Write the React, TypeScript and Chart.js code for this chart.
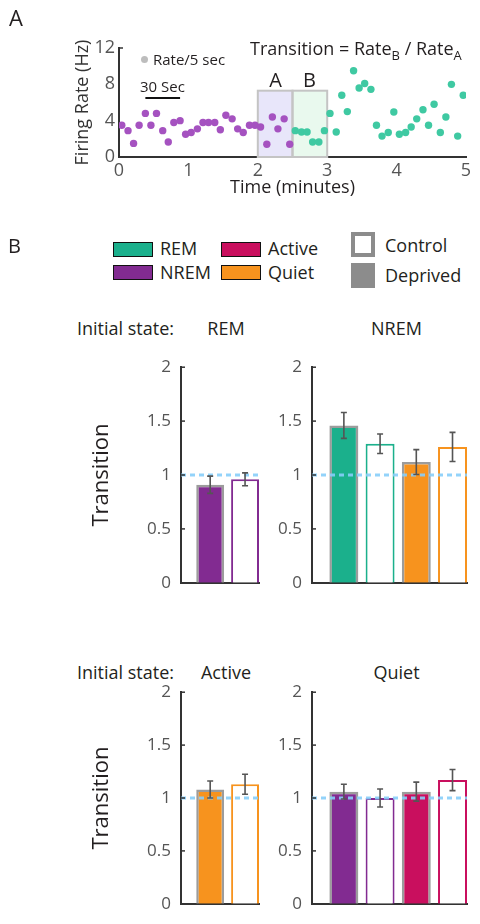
import React, { useEffect, useRef } from "react";
import { Chart, registerables } from "chart.js";

Chart.register(...registerables);

const FONT = "'Open Sans', 'Noto Sans', sans-serif";
Chart.defaults.font.family = FONT;

// ---------------- Panel A: firing rate per 5-s bin ----------------
const nremTimes = [0.04, 0.13, 0.21, 0.29, 0.38, 0.46, 0.54, 0.63, 0.71, 0.79, 0.88, 0.96, 1.04, 1.13, 1.21, 1.29, 1.38, 1.46, 1.54, 1.63, 1.71, 1.79, 1.88, 1.96, 2.04, 2.13, 2.21, 2.29, 2.38, 2.46];
const nremRates = [3.5, 2.9, 1.5, 3.5, 4.8, 3.5, 4.8, 2.9, 1.65, 3.8, 4.0, 2.5, 2.7, 3.1, 3.8, 3.8, 3.8, 3.0, 4.6, 4.2, 3.1, 2.7, 3.5, 3.5, 3.3, 1.4, 4.4, 3.1, 4.2, 1.4];
const remTimes = [2.54, 2.63, 2.71, 2.79, 2.88, 2.96, 3.04, 3.13, 3.21, 3.29, 3.38, 3.46, 3.54, 3.63, 3.71, 3.79, 3.88, 3.96, 4.04, 4.13, 4.21, 4.29, 4.38, 4.46, 4.54, 4.63, 4.71, 4.79, 4.88, 4.96];
const remRates = [2.9, 2.75, 2.75, 1.65, 1.65, 2.9, 4.8, 2.75, 6.8, 5.0, 9.5, 7.6, 8.1, 7.45, 3.5, 2.3, 2.7, 4.95, 2.5, 2.7, 3.3, 4.2, 5.2, 3.5, 5.8, 2.7, 4.4, 8.0, 2.3, 6.8];
const windowA = [2.0, 2.5];
const windowB = [2.5, 3.0];
const windowTop = 7.3;
const scaleBarStart = 0.38;
const scaleBarLength = 0.5; // 30 s
const scaleBarLevel = 6.5;

// ---------------- Panel B: transition ratios ----------------
const stateColors: Record<string, string> = {
  REM: "#1bb08c",
  NREM: "#822b91",
  Active: "#c90f5e",
  Quiet: "#f7931e",
};
const legendStates = ["REM", "NREM", "Active", "Quiet"];

const remNext = ["NREM", "NREM"];
const remCond = ["Deprived", "Control"];
const remValues = [0.91, 0.96];
const remErrors = [0.08, 0.06];

const nremNext = ["REM", "REM", "Quiet", "Quiet"];
const nremCond = ["Deprived", "Control", "Deprived", "Control"];
const nremValues = [1.46, 1.29, 1.12, 1.26];
const nremErrors = [0.12, 0.09, 0.115, 0.135];

const activeNext = ["Quiet", "Quiet"];
const activeCond = ["Deprived", "Control"];
const activeValues = [1.08, 1.13];
const activeErrors = [0.08, 0.095];

const quietNext = ["NREM", "NREM", "Active", "Active"];
const quietCond = ["Deprived", "Control", "Deprived", "Control"];
const quietValues = [1.06, 1.0, 1.06, 1.17];
const quietErrors = [0.07, 0.085, 0.09, 0.1];

const pos2 = [1, 2];
const pos4 = [1, 2, 3, 4];
const yTickValues = [0, 0.5, 1, 1.5, 2];
const baseline = 1;

type Box = { l: number; t: number; w: number; h: number };

function Txt(props: { x: number; base: number; size: number; align?: "left" | "center"; color?: string; children: any }) {
  const { x, base, size, align = "left", color = "#231f20", children } = props;
  return (
    <div
      style={{
        position: "absolute",
        left: x,
        top: base - 0.888 * size,
        fontSize: size,
        lineHeight: `${size}px`,
        fontFamily: FONT,
        color,
        whiteSpace: "nowrap",
        transform: align === "center" ? "translateX(-50%)" : undefined,
      }}
    >
      {children}
    </div>
  );
}

function RatePanel() {
  const ref = useRef<HTMLCanvasElement>(null);
  useEffect(() => {
    const canvas = ref.current!;
    const decor = {
      id: "decor",
      beforeDatasetsDraw(chart: any) {
        const { ctx, scales } = chart;
        const x = scales.x, y = scales.y;
        const yT = y.getPixelForValue(windowTop);
        const yB = y.getPixelForValue(0);
        const wins: [number[], string][] = [
          [windowA, "#e8e6fa"],
          [windowB, "#e9f9ee"],
        ];
        ctx.save();
        wins.forEach(([w, c]) => {
          const x0 = x.getPixelForValue(w[0]);
          const x1 = x.getPixelForValue(w[1]);
          ctx.fillStyle = c;
          ctx.fillRect(x0, yT, x1 - x0, yB - yT);
        });
        wins.forEach(([w]) => {
          const x0 = x.getPixelForValue(w[0]);
          const x1 = x.getPixelForValue(w[1]);
          ctx.strokeStyle = "#c4c4c4";
          ctx.lineWidth = 2;
          ctx.strokeRect(x0, yT, x1 - x0, yB - yT);
        });
        ctx.restore();
      },
      afterDatasetsDraw(chart: any) {
        const { ctx, scales } = chart;
        const x = scales.x, y = scales.y;
        ctx.save();
        ctx.strokeStyle = "#111";
        ctx.lineWidth = 2;
        const py = y.getPixelForValue(scaleBarLevel);
        ctx.beginPath();
        ctx.moveTo(x.getPixelForValue(scaleBarStart), py);
        ctx.lineTo(x.getPixelForValue(scaleBarStart + scaleBarLength), py);
        ctx.stroke();
        const top = y.getPixelForValue(12);
        ctx.strokeStyle = "#333";
        ctx.lineWidth = 1.5;
        ctx.beginPath();
        ctx.moveTo(chart.chartArea.left, top);
        ctx.lineTo(chart.chartArea.left + 4, top);
        ctx.stroke();
        ctx.restore();
      },
    };
    const chart = new Chart(canvas, {
      type: "scatter",
      data: {
        datasets: [
          {
            label: "NREM",
            data: nremTimes.map((t, i) => ({ x: t, y: nremRates[i] })),
            backgroundColor: "#a552c0",
            borderWidth: 0,
            pointRadius: 3.7,
          },
          {
            label: "REM",
            data: remTimes.map((t, i) => ({ x: t, y: remRates[i] })),
            backgroundColor: "#3fc9a2",
            borderWidth: 0,
            pointRadius: 3.7,
          },
        ],
      },
      options: {
        animation: false,
        responsive: false,
        layout: { padding: { top: 48, right: 14, left: 0, bottom: 0 } },
        plugins: { legend: { display: false }, tooltip: { enabled: false } },
        scales: {
          x: {
            type: "linear",
            min: 0,
            max: 5,
            grid: { display: false, drawTicks: false },
            border: { color: "#333", width: 2 },
            ticks: { stepSize: 1, color: "#555", font: { size: 18 }, padding: 3.5 },
            title: { display: true, text: "Time (minutes)", color: "#231f20", font: { size: 18 }, padding: { top: 0, bottom: 11 } },
            afterFit: (s: any) => { s.height = 53; },
          },
          y: {
            min: 0,
            max: 12,
            grid: { display: false, drawTicks: false },
            border: { color: "#333", width: 2 },
            ticks: { stepSize: 4, color: "#555", font: { size: 18 }, padding: 4 },
            title: { display: true, text: "Firing Rate (Hz)", color: "#333", font: { size: 18 }, padding: { top: 72, bottom: 0 } },
            afterFit: (s: any) => { s.width = 119; },
          },
        },
      },
      plugins: [decor],
    });
    return () => chart.destroy();
  }, []);
  return <canvas ref={ref} width={480} height={210} style={{ position: "absolute", left: 0, top: 0, width: 480, height: 210 }} />;
}

function BarPanel(props: {
  box: Box; yw: number; padRight: number;
  xRange: number[]; positions: number[]; next: string[]; cond: string[];
  values: number[]; errors: number[]; yTitle: boolean;
}) {
  const { box, yw, padRight, xRange, positions, next, cond, values, errors, yTitle } = props;
  const ref = useRef<HTMLCanvasElement>(null);
  useEffect(() => {
    const canvas = ref.current!;
    const fills = next.map((s, i) => (cond[i] === "Deprived" ? stateColors[s] : "#ffffff"));
    const borders = next.map((s, i) => (cond[i] === "Deprived" ? "#9c9c9c" : stateColors[s]));
    const widths = cond.map((c) => (c === "Deprived" ? 2.5 : 2));
    const extras = {
      id: "extras",
      afterDatasetsDraw(chart: any) {
        const { ctx, scales, chartArea } = chart;
        const x = scales.x, y = scales.y;
        ctx.save();
        ctx.strokeStyle = "#555";
        ctx.lineWidth = 1.6;
        positions.forEach((p, i) => {
          const px = x.getPixelForValue(p);
          const y1 = y.getPixelForValue(values[i] + errors[i]);
          const y0 = y.getPixelForValue(values[i] - errors[i]);
          ctx.beginPath();
          ctx.moveTo(px, y0); ctx.lineTo(px, y1);
          ctx.moveTo(px - 3, y0); ctx.lineTo(px + 3, y0);
          ctx.moveTo(px - 3, y1); ctx.lineTo(px + 3, y1);
          ctx.stroke();
        });
        ctx.strokeStyle = "#333";
        ctx.lineWidth = 1.5;
        yTickValues.forEach((v) => {
          const py = y.getPixelForValue(v);
          ctx.beginPath();
          ctx.moveTo(chartArea.left, py);
          ctx.lineTo(chartArea.left + 4, py);
          ctx.stroke();
        });
        ctx.restore();
      },
    };
    const chart = new Chart(canvas, {
      type: "bar",
      data: {
        datasets: [
          {
            type: "line",
            data: [{ x: xRange[0], y: baseline }, { x: xRange[1], y: baseline }],
            borderColor: "rgba(135,206,250,0.9)",
            borderDash: [5, 4],
            borderWidth: 3,
            pointRadius: 0,
            order: 0,
          } as any,
          {
            type: "bar",
            data: positions.map((p, i) => ({ x: p, y: values[i] })),
            backgroundColor: fills,
            borderColor: borders,
            borderWidth: widths,
            categoryPercentage: 1,
            barPercentage: 0.8,
            order: 1,
          } as any,
        ],
      },
      options: {
        animation: false,
        responsive: false,
        layout: { padding: { top: 0, right: padRight, left: 0, bottom: 0 } },
        plugins: { legend: { display: false }, tooltip: { enabled: false } },
        scales: {
          x: {
            type: "linear",
            offset: false,
            min: xRange[0],
            max: xRange[1],
            grid: { display: false, drawTicks: false },
            border: { color: "#333", width: 2 },
            ticks: { display: false },
            afterFit: (s: any) => { s.height = 4; },
          },
          y: {
            min: 0,
            max: 2,
            grid: { display: false, drawTicks: false },
            border: { color: "#333", width: 2 },
            ticks: { stepSize: 0.5, color: "#555", font: { size: 17 }, padding: 10, callback: (v: any) => `${v}` },
            title: { display: yTitle, text: "Transition", color: "#231f20", font: { size: 22 }, padding: { top: 28.3, bottom: 0 } },
            afterFit: (s: any) => { s.width = yw; },
          },
        },
      },
      plugins: [extras],
    });
    return () => chart.destroy();
  }, []);
  return <canvas ref={ref} width={box.w} height={box.h} style={{ position: "absolute", left: box.l, top: box.t, width: box.w, height: box.h }} />;
}

function Swatch(props: { x: number; y: number; color: string }) {
  return (
    <div style={{ position: "absolute", left: props.x, top: props.y, width: 40, height: 15, boxSizing: "border-box", border: "1.5px solid #111", background: props.color }} />
  );
}

export default function App() {
  const swatchPos: Record<string, [number, number]> = {
    REM: [113, 241.5],
    NREM: [113, 265],
    Active: [221, 241.5],
    Quiet: [221, 265],
  };
  const labelBase: Record<string, number> = { REM: 255, NREM: 278.5, Active: 255, Quiet: 278.5 };
  return (
    <div style={{ position: "absolute", left: 0, top: 0, width: 480, height: 924, background: "#fff", overflow: "hidden" }}>
      <RatePanel />
      <Txt x={9} base={26} size={22}>A</Txt>
      <div style={{ position: "absolute", left: 140.5, top: 55.5, width: 7, height: 7, borderRadius: "50%", background: "#bdbdbd" }} />
      <Txt x={153} base={65} size={15}>Rate/5 sec</Txt>
      <Txt x={140} base={92.5} size={15}>30 Sec</Txt>
      <Txt x={250} base={55} size={18}>
        Transition = Rate<span style={{ fontSize: 13, position: "relative", top: 5 }}>B</span> / Rate<span style={{ fontSize: 13, position: "relative", top: 5 }}>A</span>
      </Txt>
      <Txt x={275.5} base={87.5} size={20} align="center">A</Txt>
      <Txt x={309.5} base={87.5} size={20} align="center">B</Txt>

      <Txt x={8} base={254} size={20}>B</Txt>
      {legendStates.map((s) => (
        <React.Fragment key={s}>
          <Swatch x={swatchPos[s][0]} y={swatchPos[s][1]} color={stateColors[s]} />
          <Txt x={swatchPos[s][0] + 47} base={labelBase[s]} size={18}>{s}</Txt>
        </React.Fragment>
      ))}
      <div style={{ position: "absolute", left: 351, top: 232, width: 24, height: 25, boxSizing: "border-box", border: "4px solid #8c8c8c", background: "#fff" }} />
      <div style={{ position: "absolute", left: 351, top: 263, width: 24, height: 25, background: "#8c8c8c" }} />
      <Txt x={385} base={251.5} size={18}>Control</Txt>
      <Txt x={385} base={282} size={18}>Deprived</Txt>

      <Txt x={77} base={334.5} size={18}>Initial state:</Txt>
      <Txt x={226} base={334.5} size={18} align="center">REM</Txt>
      <Txt x={396.5} base={334.5} size={18} align="center">NREM</Txt>
      <BarPanel box={{ l: 60, t: 347, w: 206, h: 256 }} yw={121} padRight={7} xRange={[0.163, 2.4]} positions={pos2} next={remNext} cond={remCond} values={remValues} errors={remErrors} yTitle={true} />
      <BarPanel box={{ l: 270, t: 347, w: 204, h: 256 }} yw={42} padRight={7} xRange={[0.12, 4.4]} positions={pos4} next={nremNext} cond={nremCond} values={nremValues} errors={nremErrors} yTitle={false} />

      <Txt x={77} base={678.5} size={18}>Initial state:</Txt>
      <Txt x={226} base={678.5} size={18} align="center">Active</Txt>
      <Txt x={396.5} base={678.5} size={18} align="center">Quiet</Txt>
      <BarPanel box={{ l: 60, t: 672, w: 206, h: 252 }} yw={121} padRight={7} xRange={[0.163, 2.4]} positions={pos2} next={activeNext} cond={activeCond} values={activeValues} errors={activeErrors} yTitle={true} />
      <BarPanel box={{ l: 270, t: 672, w: 204, h: 252 }} yw={42} padRight={7} xRange={[0.12, 4.4]} positions={pos4} next={quietNext} cond={quietCond} values={quietValues} errors={quietErrors} yTitle={false} />
    </div>
  );
}
